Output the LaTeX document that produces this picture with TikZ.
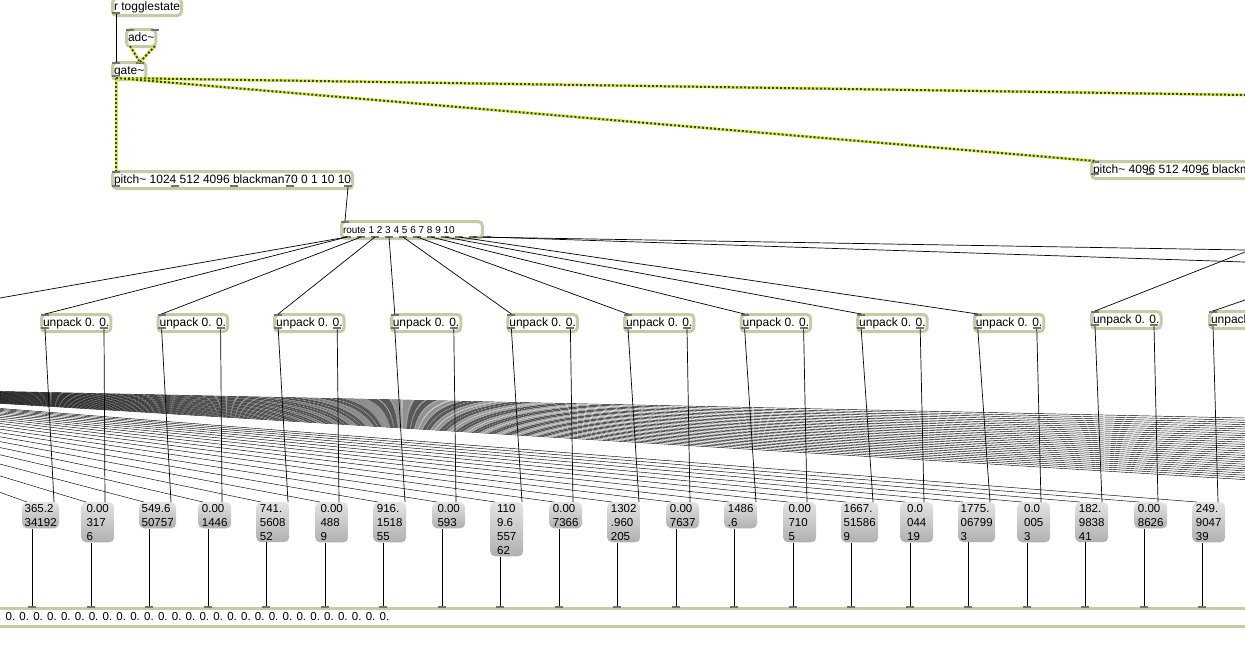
\documentclass[tikz,border=0pt]{standalone}
\usepackage{fontspec}
\setmainfont{Liberation Sans}
\begin{document}
\begin{tikzpicture}[x=1pt,y=-1pt,
  obj/.style={draw=boxbd,line width=3pt,rounded corners=4pt,fill=white,anchor=north west,inner xsep=1.5pt,inner ysep=1pt,minimum height=17pt,font=\fontsize{12}{13}\selectfont,text height=8.5pt,text depth=2.5pt,align=left},
  num/.style={rounded corners=5pt,top color=gray!22,bottom color=gray!62,anchor=north west,inner xsep=2.5pt,inner ysep=2pt,minimum width=33pt,align=left,font=\fontsize{11.5}{14}\selectfont},
  cab/.style={line width=0.7pt},
  sig/.style={line width=3pt,draw=sigy},
  sigd/.style={line width=2pt,draw=black!75,dash pattern=on 2pt off 2pt},
  port/.style={fill=black!55,draw=none}]
\definecolor{boxbd}{HTML}{C6CBA6}
\definecolor{sigy}{HTML}{D6F03A}
\useasboundingbox (0,0) rectangle (1245,657);
\begin{scope}
\clip (0,0) rectangle (1245,657);
% bottom message box
\node[draw=boxbd,line width=3pt,fill=white,anchor=north west,minimum width=1300pt,minimum height=18pt,inner sep=0pt] (msg) at (-20,607) {};
\node[anchor=west,inner sep=0pt,font=\fontsize{11.5}{12}\selectfont] (msgt) at (-2,617) {. 0. 0. 0. 0. 0. 0. 0. 0. 0. 0. 0. 0. 0. 0. 0. 0. 0. 0. 0. 0. 0. 0. 0. 0. 0. 0. 0. 0.};
% objects
\node[obj] (tog) at (111,-3) {r togglestate};
\node[obj] (adc) at (125,28) {adc\char`~};
\node[obj] (gate) at (111,61) {gate\char`~};
\node[obj] (p1) at (111,170) {pitch\char`~{} 1024 512 4096 blackman70 0 1 10 10};
\node[obj] (p2) at (1090,160) {pitch\char`~{} 4096 512 4096 blackman70 0 1 10 10};
\node[obj,font=\fontsize{10}{11}\selectfont] (route) at (340,220) {route 1 2 3 4 5 6 7 8 9 10\hspace{26pt}};
\foreach \i in {0,...,8}{
  \node[obj] (u\i) at ({40+116.6*\i},313) {unpack 0. 0.};
}
\node[obj] (u9) at (1090,310) {unpack 0. 0.};
\node[obj] (u10) at (1208,310) {unpack 0. 0.};
% ports on objects
\foreach \x/\y in {116/13, 130/30,155/30, 116/63,140/63, 116/76, 116/172, 116/186,175/186,234/186,290/186,348/186, 345/222, 1095/162,1095/174,1150/174,1205/174}
  \fill[port] (\x-4,\y-1.2) rectangle (\x+4,\y+1.2);
\foreach \i in {0,...,10} \fill[port] ({343+14*\i},235.8) rectangle ({351+14*\i},238.2);
\foreach \i in {0,...,8}{
  \fill[port] ({41+116.6*\i},314) rectangle ({49+116.6*\i},316.4);
  \fill[port] ({41+116.6*\i},327) rectangle ({49+116.6*\i},329.4);
  \fill[port] ({100+116.6*\i},327) rectangle ({108+116.6*\i},329.4);
}
\foreach \x in {1091,1209}{\fill[port] (\x,311) rectangle (\x+8,313.4); \fill[port] (\x,324) rectangle (\x+8,326.4);}
\fill[port] (1150,324) rectangle (1158,326.4);
% number boxes
\foreach \i/\x/\t in {0/22/{365.2\\34192},1/81/{0.00\\317\\6},2/139/{549.6\\50757},3/198/{0.00\\1446},4/256/{741.\\5608\\52},5/315/{0.00\\488\\9},6/373/{916.\\1518\\55},7/432/{0.00\\593},8/490/{110\\9.6\\557\\62},9/549/{0.00\\7366},10/607/{1302\\.960\\205},11/666/{0.00\\7637},12/724/{1486\\.6},13/783/{0.00\\710\\5},14/841/{1667.\\51586\\9},15/900/{0.0\\044\\19},16/958/{1775.\\06799\\3},17/1017/{0.0\\005\\3},18/1075/{182.\\9838\\41},19/1134/{0.00\\8626},20/1192/{249.\\9047\\39}}{
  \node[num] (n\i) at (\x,502) {\t};
  \coordinate (in\i) at (\x+5,502);
  \coordinate (m\i) at (\x+10,607);
  \draw[cab] (n\i.south west -| m\i) -- (m\i);
  \fill[port] (\x+6,606) rectangle (\x+14,608.4);
}
% fan of cables from the left
\coordinate (fo) at (-300,385);
\foreach \i in {0,...,20} \draw[line width=0.45pt] (fo) -- (in\i);
\foreach \k in {0,...,28} \draw[line width=0.45pt] (fo) -- (1245,{418+2.2*\k});
% unpack to number boxes
\foreach \i in {0,...,8}{
  \pgfmathtruncatemacro{\a}{2*\i}\pgfmathtruncatemacro{\b}{2*\i+1}
  \draw[cab] ({45+116.6*\i},329) -- ([xshift=32pt]n\a.north west);
  \draw[cab] ({104+116.6*\i},329) -- ([xshift=24pt]n\b.north west);
}
\draw[cab] (1095,326) -- ([xshift=27pt]n18.north west);
\draw[cab] (1154,326) -- ([xshift=24pt]n19.north west);
\draw[cab] (1213,326) -- ([xshift=26pt]n20.north west);
% route to unpacks
\coordinate (offl) at (0,298);
\draw[cab] (347,237) -- (offl);
\foreach \i/\o in {0/0,1/1,2/2,3/3,4/4,5/5,6/6,7/7,8/8}
  \draw[cab] ({347+14*\o},237) -- ({45+116.6*\i},314);
\foreach \k in {9,10} \draw[cab] ({347+14*\k},237) -- (1245,{250+12*(\k-9)});
\draw[cab] (1245,252) -- (1095,311);
\draw[cab] (1245,300) -- (1213,311);
% control cables
\draw[cab] (116,14) -- (116,62);
\draw[cab] (348,187) -- (345,221);
% signal cables
\foreach \a/\b in {{130,46}/{140,62},{155,46}/{140,62},{116,78}/{116,171},{116,78}/{1245,95},{116,78}/{1095,161}}{
  \draw[sig] (\a) -- (\b);
  \draw[sigd] (\a) -- (\b);
}
\end{scope}
\end{tikzpicture}
\end{document}
